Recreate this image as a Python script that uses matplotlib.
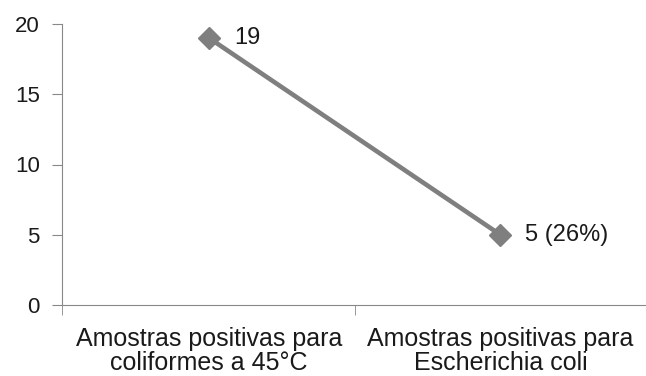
import matplotlib.pyplot as plt

categories = ['Amostras positivas para\ncoliformes a 45°C',
              'Amostras positivas para\nEscherichia coli']
values = [19, 5]
point_labels = ['19', '5 (26%)']

plt.rcParams['font.family'] = ['Liberation Sans', 'DejaVu Sans']

fig = plt.figure(figsize=(6.46, 3.76), dpi=100)
ax = fig.add_axes([62 / 646, 71 / 376, 1 - 62 / 646, 281 / 376])

x = list(range(len(values)))
ax.plot(x, values, color='#7f7f7f', linewidth=3.3, marker='D', markersize=11,
        clip_on=False)
for xi, v, lab in zip(x, values, point_labels):
    ax.annotate(lab, (xi, v), xytext=(18, 0), textcoords='offset points',
                va='center', ha='left', fontsize=17, color='#1a1a1a')

ax.set_xlim(-0.505, 1.455)
ax.set_ylim(0, 20)
ax.set_yticks([0, 5, 10, 15, 20])
ax.set_xticks([0, 1])
ax.set_xticklabels(categories, fontsize=18, linespacing=1.0)
ax.set_xticks([-0.505, 0.5, 1.5], minor=True)
ax.tick_params(axis='x', which='major', length=0, pad=16)
ax.tick_params(axis='x', which='minor', length=7, color='#888888', direction='out')
ax.tick_params(axis='y', length=7, color='#888888', labelsize=16, pad=9)
for lbl in ax.get_xticklabels() + ax.get_yticklabels():
    lbl.set_color('#1a1a1a')

ax.spines['top'].set_visible(False)
ax.spines['right'].set_visible(False)
ax.spines['left'].set_color('#888888')
ax.spines['bottom'].set_color('#888888')

plt.savefig('out.png', dpi=100)
